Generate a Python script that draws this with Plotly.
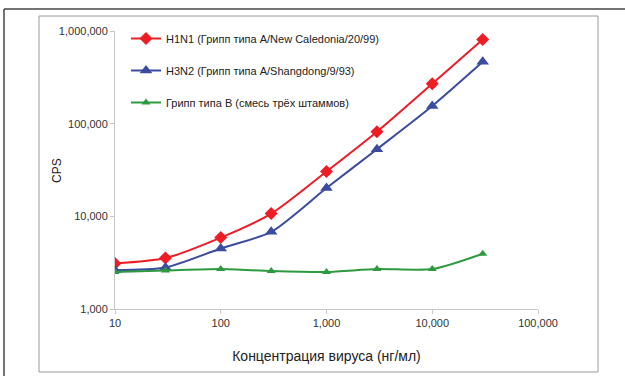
import plotly.graph_objects as go

conc = [10, 30, 100, 300, 1000, 3000, 10000, 30000]
h1n1 = [3100, 3550, 5900, 10700, 30500, 82000, 270000, 810000]
h3n2 = [2620, 2800, 4500, 6800, 20200, 53000, 155000, 465000]
flu_b = [2510, 2600, 2700, 2570, 2510, 2700, 2700, 3950]

names = ["H1N1 (Грипп типа A/New Caledonia/20/99)",
         "H3N2 (Грипп типа A/Shangdong/9/93)",
         "Грипп типа B (смесь трёх штаммов)"]

x_ticks = [10, 100, 1000, 10000, 100000]
x_tick_text = ["10", "100", "1,000", "10,000", "100,000"]
y_ticks = [1000, 10000, 100000, 1000000]
y_tick_text = ["1,000", "10,000", "100,000", "1,000,000"]

FONT = "Liberation Sans, Arial, sans-serif"

fig = go.Figure()
series = [
    (h1n1, names[0], "#ee1c25", "diamond", 10),
    (h3n2, names[1], "#3b4ba0", "triangle-up", 11),
    (flu_b, names[2], "#2e9a40", "triangle-up", 8),
]
for i, (ys, nm, col, sym, sz) in enumerate(series):
    fig.add_trace(go.Scatter(
        x=conc, y=ys, name=nm, mode="lines+markers",
        line=dict(color=col, width=2, shape="spline", smoothing=0.7),
        marker=dict(color=col, symbol=sym, size=sz),
        legendgroup=f"g{i}",
    ))

L, R, T, B = 115, 538, 31, 309
W, H = 625, 376

def px(x):
    return (x - L) / (R - L)

def py(y):
    return (B - y) / (B - T)

shapes = [
    dict(type="line", xref="paper", yref="paper", x0=px(4), x1=px(625), y0=py(9), y1=py(9),
         line=dict(color="#444444", width=1.5)),
    dict(type="line", xref="paper", yref="paper", x0=px(4), x1=px(4), y0=py(9), y1=py(376),
         line=dict(color="#444444", width=1.5)),
    dict(type="rect", xref="paper", yref="paper", x0=px(39), x1=px(598), y0=py(16), y1=py(372),
         line=dict(color="#9a9a9a", width=1)),
]

fig.update_layout(
    width=W, height=H,
    margin=dict(l=L, r=W - R, t=T, b=H - B, autoexpand=False),
    paper_bgcolor="white", plot_bgcolor="white",
    font=dict(family=FONT, size=11, color="#333333"),
    shapes=shapes,
    showlegend=True,
    legend=dict(x=px(126), y=py(24), xanchor="left", yanchor="top",
                bgcolor="rgba(0,0,0,0)", font=dict(size=11, color="#222222"),
                tracegroupgap=13, itemwidth=30),
    annotations=[dict(text="CPS", xref="paper", yref="paper", x=px(57), y=py(171),
                      xanchor="center", yanchor="middle", textangle=-90, showarrow=False,
                      font=dict(size=12, color="#222222"))],
    xaxis=dict(type="log", range=[1, 5], tickvals=x_ticks, ticktext=x_tick_text,
               showgrid=False, zeroline=False, showline=True, linecolor="#c8c8c8", linewidth=1,
               ticks="outside", ticklen=4, tickcolor="#c8c8c8",
               title=dict(text="Концентрация вируса (нг/мл)", font=dict(size=14, color="#222222"),
                          standoff=22)),
    yaxis=dict(type="log", range=[3, 6], tickvals=y_ticks, ticktext=y_tick_text,
               showgrid=False, zeroline=False, showline=True, linecolor="#c8c8c8", linewidth=1,
               ticks="outside", ticklen=4, tickcolor="#c8c8c8"),
)

fig.write_html("out.html")
